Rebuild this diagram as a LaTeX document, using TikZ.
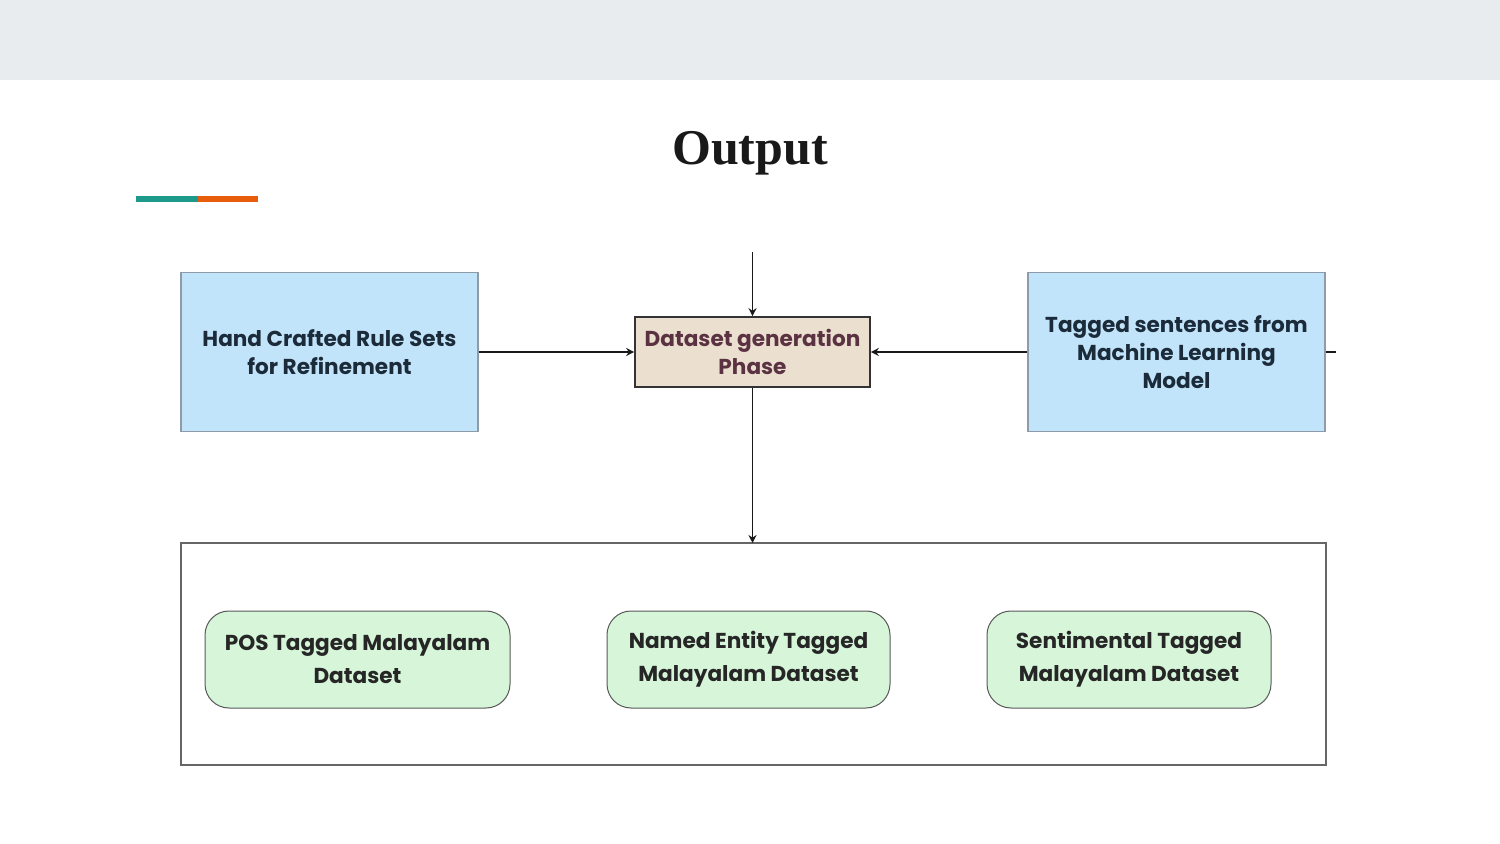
\documentclass[tikz,border=0pt]{standalone}
\usepackage{fontspec}
\setmainfont{Liberation Serif}
\newfontfamily\boxfont{Poppins}
\usetikzlibrary{arrows.meta}
\definecolor{band}{HTML}{E8ECEE}
\definecolor{teal}{HTML}{1E9A8C}
\definecolor{orng}{HTML}{E85D0C}
\definecolor{blueF}{HTML}{C2E4FA}
\definecolor{blueD}{HTML}{8E9CAA}
\definecolor{beige}{HTML}{EBDFCF}
\definecolor{maroon}{HTML}{5A3242}
\definecolor{greenF}{HTML}{D6F5D9}
\definecolor{navy}{HTML}{1C2B3A}
\tikzset{
  x=0.5pt,y=-0.5pt,
  bluebox/.style={draw=blueD,line width=0.6pt,fill=blueF,minimum width=148.5pt,minimum height=79.5pt,align=center,font=\boxfont\bfseries\fontsize{10.8}{14}\selectfont,text=navy,inner sep=0pt},
  phasebox/.style={draw=black!80,line width=0.8pt,fill=beige,minimum width=117.5pt,minimum height=35pt,align=center,font=\boxfont\bfseries\fontsize{10.8}{14}\selectfont,text=maroon,inner sep=0pt},
  greenbox/.style={draw=black!65,line width=0.5pt,fill=greenF,rounded corners=12pt,minimum height=48.5pt,align=center,font=\boxfont\bfseries\fontsize{10.8}{16.5}\selectfont,text=black!85,inner sep=0pt},
  conn/.style={draw=black!90,line width=0.9pt,-{Stealth[length=4pt,width=4pt]}}
}
\begin{document}
\begin{tikzpicture}
\useasboundingbox (0,0) rectangle (1500,844);
\fill[white] (0,0) rectangle (1500,844);
\fill[band] (0,0) rectangle (1500,80);
\node[font=\bfseries\fontsize{25}{30}\selectfont,text=black!90] (title) at (750,153) {Output};
\fill[teal] (136,196) rectangle (198,202);
\fill[orng] (198,196) rectangle (258,202);

\node[bluebox] (hand) at (329.5,352) {Hand Crafted Rule Sets\\for Refinement};
\node[bluebox] (tag) at (1176.5,352) {Tagged sentences from\\Machine Learning\\Model};
\node[phasebox] (phase) at (752.5,352) {Dataset generation\\Phase};

\draw[draw=black!60,line width=0.6pt] (181,543) rectangle (1326,765);
\coordinate (outtop) at (752.5,543);
\coordinate (src) at (752.5,252);
\coordinate (stub) at (1336,352);

\node[greenbox,minimum width=152.5pt] (pos) at (357.5,659.5) {POS Tagged Malayalam\\Dataset};
\node[greenbox,minimum width=141.5pt] (ner) at (748.5,659.5) {Named Entity Tagged\\Malayalam Dataset};
\node[greenbox,minimum width=142pt] (sen) at (1129,659.5) {Sentimental Tagged\\Malayalam Dataset};

\draw[conn] (src) -- (phase.north);
\draw[conn] (hand.east) -- (phase.west);
\draw[conn] (tag.west) -- (phase.east);
\draw[conn] (phase.south) -- (outtop);
\draw[draw=black!90,line width=0.9pt] (tag.east) -- (stub);
\end{tikzpicture}
\end{document}
